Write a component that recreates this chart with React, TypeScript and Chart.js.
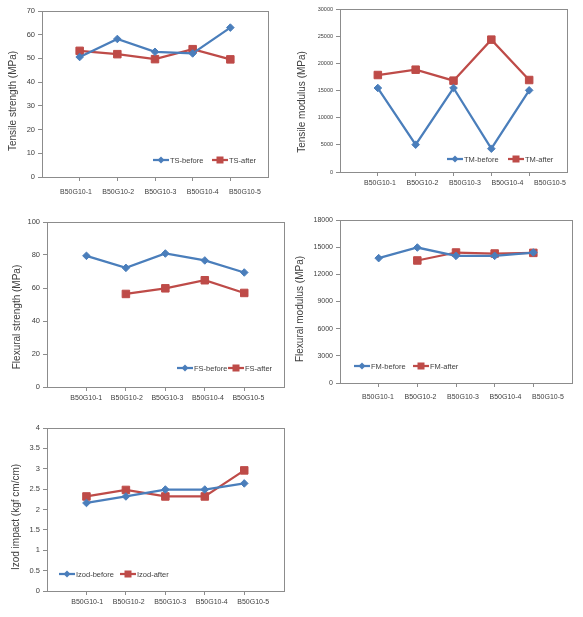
import React, { useEffect, useRef } from 'react';
import { Chart, registerables } from 'chart.js';

Chart.register(...registerables);

// ---- data ----
const categories = ['B50G10-1', 'B50G10-2', 'B50G10-3', 'B50G10-4', 'B50G10-5'];

const tsBefore = [50.6, 58.2, 52.8, 52.1, 63.0];
const tsAfter = [53.2, 51.8, 49.7, 53.9, 49.6];
const tmBefore = [15460, 5030, 15460, 4290, 15030];
const tmAfter = [17850, 18830, 16810, 24360, 16930];
const fsBefore = [79.5, 72.2, 80.9, 76.7, 69.4];
const fsAfter = [null, 56.4, 59.8, 64.7, 57.0];
const fmBefore = [13790, 14960, 14040, 14040, 14410];
const fmAfter = [null, 13530, 14410, 14300, 14370];
const izodBefore = [2.16, 2.32, 2.49, 2.49, 2.64];
const izodAfter = [2.32, 2.48, 2.32, 2.32, 2.96];

// ---- styles ----
const BLUE = '#4A7EBB';
const RED = '#BE4B48';
const GRID = '#8C8C8C';
const TEXT = '#404040';
const FONT = "'Liberation Sans', Arial, sans-serif";

type Panel = {
  box: [number, number, number, number];
  area: { l: number; r: number; t: number; b: number };
  labelPad: number;
  xl: [number, number];
  yMax: number;
  yStep: number;
  yFont: number;
  yTitle: string;
  titlePos: [number, number];
  legendX: [number, number];
  legendY: number;
  names: [string, string];
  before: (number | null)[];
  after: (number | null)[];
};

const panels: Panel[] = [
  {
    box: [0, 0, 290, 200], area: { l: 42, r: 268, t: 11, b: 177 }, labelPad: 6, xl: [0.195, 5.544],
    yMax: 70, yStep: 10, yFont: 7.5, yTitle: 'Tensile strength (MPa)', titlePos: [13, 101],
    legendX: [153, 212], legendY: 160, names: ['TS-before', 'TS-after'], before: tsBefore, after: tsAfter,
  },
  {
    box: [290, 0, 293, 200], area: { l: 50, r: 277, t: 9, b: 172 }, labelPad: 2, xl: [0.059, 5.4],
    yMax: 30000, yStep: 5000, yFont: 5.5, yTitle: 'Tensile modulus (MPa)', titlePos: [12.5, 102],
    legendX: [157, 218], legendY: 159, names: ['TM-before', 'TM-after'], before: tmBefore, after: tmAfter,
  },
  {
    box: [0, 200, 290, 215], area: { l: 47, r: 288, t: 22, b: 187 }, labelPad: 2, xl: [0.03, 5.872],
    yMax: 100, yStep: 20, yFont: 7.5, yTitle: 'Flexural strength (MPa)', titlePos: [17, 117],
    legendX: [177, 228], legendY: 168, names: ['FS-before', 'FS-after'], before: fsBefore, after: fsAfter,
  },
  {
    box: [290, 200, 293, 215], area: { l: 50, r: 282, t: 20, b: 183 }, labelPad: 5, xl: [0.106, 5.565],
    yMax: 18000, yStep: 3000, yFont: 7, yTitle: 'Flexural modulus (MPa)', titlePos: [10.5, 109],
    legendX: [64, 123], legendY: 166, names: ['FM-before', 'FM-after'], before: fmBefore, after: fmAfter,
  },
  {
    box: [0, 400, 290, 217], area: { l: 47, r: 288, t: 28, b: 191 }, labelPad: 2, xl: [0.03, 5.734],
    yMax: 4, yStep: 0.5, yFont: 7.5, yTitle: 'Izod impact (kgf cm/cm)', titlePos: [16, 117],
    legendX: [59, 120], legendY: 174, names: ['Izod-before', 'Izod-after'], before: izodBefore, after: izodAfter,
  },
];

const catTicks = (s: any) => {
  s.ticks = categories.map((_, i) => ({ value: i + 1 }));
};

function drawMarker(ctx: CanvasRenderingContext2D, kind: string, x: number, y: number, color: string) {
  ctx.fillStyle = color;
  if (kind === 'rect') {
    ctx.fillRect(x - 3.5, y - 3.5, 7, 7);
  } else {
    ctx.beginPath();
    ctx.moveTo(x, y - 3.5);
    ctx.lineTo(x + 3.5, y);
    ctx.lineTo(x, y + 3.5);
    ctx.lineTo(x - 3.5, y);
    ctx.closePath();
    ctx.fill();
  }
}

function PanelChart({ p }: { p: Panel }) {
  const ref = useRef<HTMLCanvasElement | null>(null);
  useEffect(() => {
    const [, , w, h] = p.box;
    const a = p.area;
    const decor = {
      id: 'decor',
      beforeDatasetsDraw(chart: any) {
        const { ctx, chartArea } = chart;
        ctx.save();
        ctx.strokeStyle = GRID;
        ctx.lineWidth = 1;
        const l = Math.round(chartArea.left) + 0.5;
        const t = Math.round(chartArea.top) + 0.5;
        ctx.strokeRect(l, t, Math.round(chartArea.right) - Math.round(chartArea.left), Math.round(chartArea.bottom) - Math.round(chartArea.top));
        ctx.restore();
      },
      afterDraw(chart: any) {
        const ctx: CanvasRenderingContext2D = chart.ctx;
        ctx.save();
        // y title
        ctx.translate(p.titlePos[0], p.titlePos[1]);
        ctx.rotate(-Math.PI / 2);
        ctx.font = `10px ${FONT}`;
        ctx.fillStyle = TEXT;
        ctx.textAlign = 'center';
        ctx.textBaseline = 'middle';
        ctx.fillText(p.yTitle, 0, 0);
        ctx.restore();
        // legend
        ctx.save();
        ctx.font = `7.5px ${FONT}`;
        ctx.textBaseline = 'middle';
        ctx.textAlign = 'left';
        const y = p.legendY;
        chart.data.datasets.forEach((ds: any, i: number) => {
          const x = p.legendX[i];
          ctx.strokeStyle = ds.borderColor;
          ctx.lineWidth = 2.25;
          ctx.beginPath();
          ctx.moveTo(x, y);
          ctx.lineTo(x + 16, y);
          ctx.stroke();
          drawMarker(ctx, ds.pointStyle, x + 8, y, ds.borderColor);
          ctx.fillStyle = TEXT;
          ctx.fillText(ds.label, x + 17, y + 0.5);
        });
        ctx.restore();
      },
    };

    const chart = new Chart(ref.current as HTMLCanvasElement, {
      type: 'line',
      data: {
        datasets: [
          {
            label: p.names[0],
            data: p.before.map((v, i) => ({ x: i + 1, y: v })) as any,
            borderColor: BLUE,
            backgroundColor: BLUE,
            borderWidth: 2.25,
            pointStyle: 'rectRot',
            pointRadius: 3.8,
            pointBorderWidth: 1,
            tension: 0,
          },
          {
            label: p.names[1],
            data: p.after.map((v, i) => ({ x: i + 1, y: v })) as any,
            borderColor: RED,
            backgroundColor: RED,
            borderWidth: 2.25,
            pointStyle: 'rect',
            pointRadius: 5.3,
            pointBorderWidth: 1,
            tension: 0,
          },
        ],
      },
      options: {
        animation: false,
        responsive: false,
        maintainAspectRatio: false,
        layout: { padding: { top: a.t, right: w - a.r, left: 0, bottom: 0 } },
        plugins: { legend: { display: false }, tooltip: { enabled: false }, title: { display: false } },
        scales: {
          y: {
            min: 0,
            max: p.yMax,
            ticks: {
              stepSize: p.yStep,
              font: { size: p.yFont, family: FONT },
              color: TEXT,
              padding: 3,
              callback: (v: any) => String(v),
            },
            grid: { display: true, drawOnChartArea: false, drawTicks: true, tickLength: 4, color: GRID },
            border: { display: true, color: GRID },
            afterFit: (s: any) => { s.width = a.l; },
          },
          x: {
            type: 'linear',
            position: 'bottom',
            min: 0,
            max: 6,
            weight: 0,
            afterBuildTicks: catTicks,
            ticks: { display: false },
            grid: { display: true, drawOnChartArea: false, drawTicks: true, tickLength: 4, color: GRID },
            border: { display: true, color: GRID },
            afterFit: (s: any) => { s.height = 4; },
          },
          xl: {
            type: 'linear',
            position: 'bottom',
            axis: 'x',
            min: p.xl[0],
            max: p.xl[1],
            weight: 1,
            afterBuildTicks: catTicks,
            ticks: {
              callback: (_v: any, i: number) => categories[i],
              font: { size: 7, family: FONT },
              color: TEXT,
              padding: p.labelPad + 1,
              maxRotation: 0,
              autoSkip: false,
            },
            grid: { display: false, drawTicks: false, tickLength: 0 },
            border: { display: false },
            afterFit: (s: any) => { s.height = h - a.b - 4; },
          },
        } as any,
      },
      plugins: [decor],
    });
    return () => chart.destroy();
  }, [p]);

  const [left, top, w, h] = p.box;
  return (
    <div style={{ position: 'absolute', left, top, width: w, height: h }}>
      <canvas ref={ref} width={w} height={h} style={{ width: w, height: h, display: 'block' }} />
    </div>
  );
}

export default function App() {
  return (
    <div style={{ position: 'absolute', left: 0, top: 0, width: 583, height: 617, background: '#fff' }}>
      {panels.map((p, i) => (
        <PanelChart key={i} p={p} />
      ))}
    </div>
  );
}
